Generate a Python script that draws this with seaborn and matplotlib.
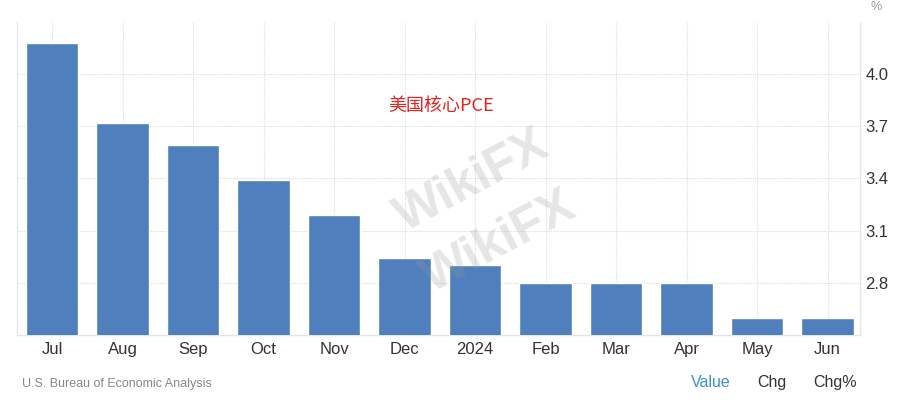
import matplotlib
matplotlib.use("Agg")
import matplotlib.pyplot as plt
import seaborn as sns
import pandas as pd

months = ["Jul", "Aug", "Sep", "Oct", "Nov", "Dec", "2024", "Feb", "Mar", "Apr", "May", "Jun"]
core_pce = [4.18, 3.72, 3.59, 3.39, 3.19, 2.94, 2.90, 2.80, 2.80, 2.80, 2.60, 2.60]
y_ticks = [2.8, 3.1, 3.4, 3.7, 4.0]
y_tick_labels = ["2.8", "3.1", "3.4", "3.7", "4.0"]
title_text = "美国核心PCE"
source_text = "U.S. Bureau of Economic Analysis"
tabs = ["Value", "Chg", "Chg%"]

sns.set_theme(style="white")
plt.rcParams["font.family"] = ["Liberation Sans", "Noto Sans CJK SC", "DejaVu Sans"]

df = pd.DataFrame({"month": months, "value": core_pce})

fig = plt.figure(figsize=(9.03, 4.04), dpi=100)
ax = fig.add_axes([0.0188, 0.171, 0.9336, 0.775])

sns.barplot(data=df, x="month", y="value", color="#4f7fbc", saturation=1,
            width=0.745, ax=ax, zorder=3)

ax.set_ylim(2.5, 4.3)
ax.set_xlim(-0.5, 11.46)
ax.set_yticks(y_ticks)
ax.set_yticklabels(y_tick_labels)
ax.yaxis.tick_right()
ax.tick_params(axis="y", length=0, pad=4, labelsize=12, labelcolor="#333333")
ax.tick_params(axis="x", length=0, pad=5, labelsize=12, labelcolor="#333333")
ax.set_xlabel("")
ax.set_ylabel("")

ax.grid(True, axis="both", color="#dddddd", linestyle=(0, (1, 1)), linewidth=0.8, zorder=0)
ax.set_axisbelow(True)
for side, sp in ax.spines.items():
    sp.set_color("#e6e6e6")
    sp.set_linewidth(1)
ax.spines["top"].set_visible(False)

# watermark
for (x, y) in [(0.43, 0.55), (0.46, 0.40)]:
    fig.text(x, y, "WikiFX", fontsize=36, color="#9a9a9a", alpha=0.25,
             rotation=28, ha="left", va="center", fontweight="bold", zorder=10)

fig.text(0.430, 0.738, title_text, fontsize=13, color="#e8231f",
         family=["Noto Sans CJK SC", "DejaVu Sans"], ha="left", va="center")
fig.text(0.970, 0.998, "%", fontsize=9, color="#999999", ha="center", va="top")
fig.text(0.024, 0.050, source_text, fontsize=9, color="#888888", ha="left", va="center")
fig.text(0.787, 0.052, tabs[0], fontsize=11.5, color="#3d8fd8", ha="center", va="center")
fig.text(0.855, 0.052, tabs[1], fontsize=11.5, color="#333333", ha="center", va="center")
fig.text(0.925, 0.052, tabs[2], fontsize=11.5, color="#333333", ha="center", va="center")

fig.savefig("out.png", dpi=100)
